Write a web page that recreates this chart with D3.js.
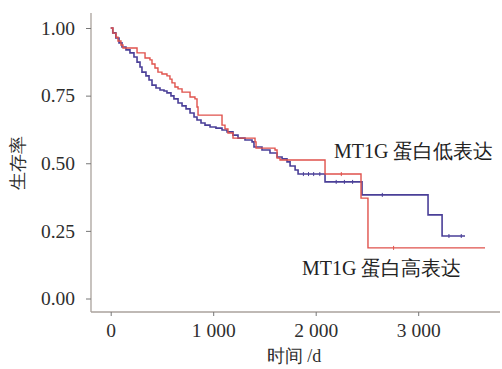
<!DOCTYPE html>
<html>
<head>
<meta charset="utf-8">
<script src="https://cdn.jsdelivr.net/npm/d3@7"></script>
<style>
  html, body { margin: 0; padding: 0; background: #fff; }
  svg { display: block; }
  .serif { font-family: "Liberation Serif", "DejaVu Serif", serif; }
</style>
</head>
<body>
<svg id="chart" width="502" height="369"></svg>
<script>
// ---- data (time in days, survival probability) ----
const highTimes = [0, 22, 52, 71, 100, 120, 257, 335, 383, 403, 432, 461, 500, 549, 578, 598, 627, 657, 696, 774, 822, 842, 852, 1086, 1115, 1144, 1193, 1408, 1418, 1603, 1623, 1652, 2091, 2442, 2510, 3652];
const highSurv  = [1.000, 0.981, 0.966, 0.952, 0.937, 0.926, 0.908, 0.889, 0.882, 0.867, 0.852, 0.837, 0.830, 0.823, 0.811, 0.797, 0.782, 0.775, 0.763, 0.745, 0.738, 0.708, 0.678, 0.641, 0.627, 0.612, 0.593, 0.579, 0.556, 0.549, 0.519, 0.512, 0.460, 0.371, 0.187, 0.187];

const lowTimes = [0, 20, 50, 81, 110, 149, 188, 227, 257, 286, 305, 344, 374, 403, 442, 481, 520, 549, 588, 617, 657, 696, 735, 774, 813, 842, 881, 920, 969, 1027, 1086, 1135, 1193, 1242, 1310, 1379, 1398, 1476, 1554, 1623, 1672, 1720, 1750, 1799, 1828, 2091, 2452, 3096, 3233, 3457];
const lowSurv  = [1.000, 0.982, 0.963, 0.945, 0.930, 0.919, 0.908, 0.893, 0.874, 0.856, 0.837, 0.823, 0.808, 0.789, 0.778, 0.771, 0.767, 0.760, 0.749, 0.738, 0.723, 0.712, 0.701, 0.686, 0.671, 0.660, 0.649, 0.641, 0.634, 0.630, 0.623, 0.616, 0.604, 0.593, 0.586, 0.579, 0.560, 0.549, 0.538, 0.523, 0.516, 0.505, 0.490, 0.475, 0.460, 0.431, 0.383, 0.309, 0.231, 0.231];

const lowCensor  = [1880, 1930, 1980, 2040, 2200, 2280, 2360, 2650, 3300, 3420];
const highCensor = [2250, 2760];

const yTicks = [0, 0.25, 0.5, 0.75, 1.0];
const xTicks = [0, 1000, 2000, 3000];
const xTickLabels = ["0", "1 000", "2 000", "3 000"];
const seriesNames = ["MT1G 蛋白低表达", "MT1G 蛋白高表达"];
const xTitle = "时间 /d";
const yTitle = "生存率";

// ---- scales ----
const x = d3.scaleLinear().domain([0, 3000]).range([110.7, 418.2]);
const y = d3.scaleLinear().domain([0, 1]).range([298.5, 28]);

const svg = d3.select("#chart");
const axisColor = "#aaa29c";
const textColor = "#2e2e2e";

// axis lines
const xAxisY = 312, yAxisX = 91;
svg.append("line").attr("x1", yAxisX).attr("x2", yAxisX).attr("y1", 13).attr("y2", xAxisY)
  .attr("stroke", axisColor).attr("stroke-width", 1.3);
svg.append("line").attr("x1", yAxisX).attr("x2", 500).attr("y1", xAxisY).attr("y2", xAxisY)
  .attr("stroke", axisColor).attr("stroke-width", 1.3);

// y axis ticks
const yAxis = d3.axisLeft(y).tickValues(yTicks).tickFormat(d3.format(".2f")).tickSize(5).tickPadding(11);
const gy = svg.append("g").attr("transform", `translate(${yAxisX},0)`).call(yAxis);
gy.attr("font-family", null).attr("font-size", null);
gy.select(".domain").remove();
gy.selectAll(".tick line").attr("stroke", "#777").attr("stroke-width", 1);
gy.selectAll(".tick text").attr("class", "serif").attr("fill", textColor).style("font-size", "19.5px");

// x axis ticks
const xAxis = d3.axisBottom(x).tickValues(xTicks).tickFormat((d, i) => xTickLabels[i]).tickSize(4).tickPadding(7);
const gx = svg.append("g").attr("transform", `translate(0,${xAxisY})`).call(xAxis);
gx.attr("font-family", null).attr("font-size", null);
gx.select(".domain").remove();
gx.selectAll(".tick line").attr("stroke", "#777").attr("stroke-width", 1);
gx.selectAll(".tick text").attr("class", "serif").attr("fill", textColor).style("font-size", "19.5px");

// axis titles
svg.append("text").attr("class", "serif").attr("x", 294).attr("y", 362).attr("text-anchor", "middle")
  .attr("fill", textColor).style("font-size", "18px").text(xTitle);
svg.append("text").attr("transform", "translate(24,163) rotate(-90)").attr("text-anchor", "middle")
  .attr("class", "serif").attr("fill", textColor).style("font-size", "18px").text(yTitle);

// curves
const line = d3.line().x(d => x(d[0])).y(d => y(d[1])).curve(d3.curveStepAfter);
const lowData = lowTimes.map((t, i) => [t, lowSurv[i]]);
const highData = highTimes.map((t, i) => [t, highSurv[i]]);

const blue = "#4a3f98", red = "#e0524c";
svg.append("path").datum(lowData).attr("d", line).attr("fill", "none").attr("stroke", blue).attr("stroke-width", 1.6);
svg.append("path").datum(highData).attr("d", line).attr("fill", "none").attr("stroke", red).attr("stroke-width", 1.4);

function survAt(times, surv, t) {
  let s = surv[0];
  for (let i = 0; i < times.length; i++) { if (times[i] <= t) s = surv[i]; }
  return s;
}
svg.selectAll(".cl").data(lowCensor).enter().append("line")
  .attr("x1", d => x(d)).attr("x2", d => x(d))
  .attr("y1", d => y(survAt(lowTimes, lowSurv, d)) - 2).attr("y2", d => y(survAt(lowTimes, lowSurv, d)) + 2)
  .attr("stroke", blue).attr("stroke-width", 1);
svg.selectAll(".ch").data(highCensor).enter().append("line")
  .attr("x1", d => x(d)).attr("x2", d => x(d))
  .attr("y1", d => y(survAt(highTimes, highSurv, d)) - 2).attr("y2", d => y(survAt(highTimes, highSurv, d)) + 2)
  .attr("stroke", red).attr("stroke-width", 1);

// series labels
svg.append("text").attr("class", "serif").attr("x", 334).attr("y", 158).attr("fill", "#222")
  .style("font-size", "20px").text(seriesNames[0]);
svg.append("text").attr("class", "serif").attr("x", 302).attr("y", 275).attr("fill", "#222")
  .style("font-size", "20px").text(seriesNames[1]);
</script>
</body>
</html>
